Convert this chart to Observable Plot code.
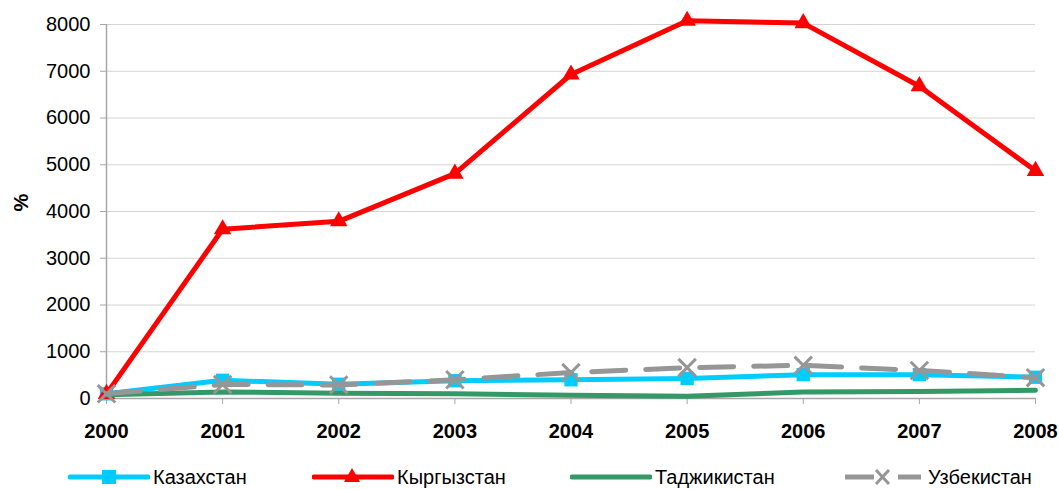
<!DOCTYPE html>
<html>
<head>
<meta charset="utf-8">
<script src="https://cdn.jsdelivr.net/npm/d3@7"></script>
<script src="https://cdn.jsdelivr.net/npm/@observablehq/plot@0.6"></script>
<style>
  html, body { margin: 0; padding: 0; background: #fff; }
  body { width: 1059px; height: 489px; overflow: hidden; font-family: "Liberation Sans", Arial, sans-serif; }
  #legend { position: relative; height: 44px; width: 1059px; }
  .item { position: absolute; top: 20px; height: 24px; display: flex; align-items: center; font-size: 20px; color: #000; }
  .item svg { display: block; margin-right: 3px; }
</style>
</head>
<body>
<div id="chart"></div>
<div id="legend"></div>
<script>
const years = [2000, 2001, 2002, 2003, 2004, 2005, 2006, 2007, 2008];
const yTicks = [0, 1000, 2000, 3000, 4000, 5000, 6000, 7000, 8000];
const seriesNames = ["Казахстан", "Кыргызстан", "Таджикистан", "Узбекистан"];
const kazakhstan = [100, 390, 305, 380, 400, 430, 510, 510, 455];
const kyrgyzstan = [100, 3620, 3790, 4810, 6930, 8080, 8030, 6680, 4870];
const tajikistan = [80, 140, 110, 100, 70, 50, 140, 150, 175];
const uzbekistan = [100, 300, 290, 400, 555, 660, 710, 600, 445];

const colors = ["#00CCFF", "#FF0000", "#339966", "#969696"];
const table = (vals) => years.map((year, i) => ({year, value: vals[i]}));
const kz = table(kazakhstan), kg = table(kyrgyzstan), tj = table(tajikistan), uz = table(uzbekistan);

const chart = Plot.plot({
  width: 1059,
  height: 445,
  marginLeft: 106,
  marginRight: 24,
  marginTop: 24,
  marginBottom: 47,
  style: {fontFamily: "Liberation Sans, Arial, sans-serif", fontSize: "20px", color: "#000", background: "#fff"},
  x: {type: "linear", domain: [2000, 2008]},
  y: {domain: [0, 8000]},
  marks: [
    Plot.gridY(yTicks, {stroke: "#d4d4d4", strokeOpacity: 1, strokeWidth: 1}),
    Plot.axisY(yTicks, {tickSize: 6, tickPadding: 10, fontSize: 20, tickFormat: d => String(d), label: null, stroke: "#a6a6a6"}),
    Plot.axisX(years, {tickSize: 6, tickPadding: 19, fontSize: 20, fontWeight: "bold", tickFormat: d => String(d), label: null, stroke: "#a6a6a6"}),
    Plot.ruleX([2000], {stroke: "#a6a6a6", strokeWidth: 1.5}),
    Plot.ruleY([0], {stroke: "#a6a6a6", strokeWidth: 1.5}),
    Plot.text(["%"], {frameAnchor: "left", dx: -85, rotate: -90, fontWeight: "bold", fontSize: 20}),
    Plot.line(kz, {x: "year", y: "value", stroke: colors[0], strokeWidth: 5}),
    Plot.dot(kz, {x: "year", y: "value", symbol: "square", r: 7.5, fill: colors[0], stroke: "none"}),
    Plot.line(kg, {x: "year", y: "value", stroke: colors[1], strokeWidth: 5}),
    Plot.dot(kg, {x: "year", y: "value", symbol: "triangle", r: 6.5, fill: colors[1], stroke: "none"}),
    Plot.line(tj, {x: "year", y: "value", stroke: colors[2], strokeWidth: 5}),
    Plot.line(uz, {x: "year", y: "value", stroke: colors[3], strokeWidth: 5, strokeDasharray: "34,20"}),
    Plot.dot(uz, {x: "year", y: "value", symbol: "times", r: 8, stroke: colors[3], strokeWidth: 3})
  ]
});
document.getElementById("chart").appendChild(chart);

// Legend
const legendLefts = [68, 312, 570, 843];
const legend = d3.select("#legend");
seriesNames.forEach((name, i) => {
  const item = legend.append("div").attr("class", "item").style("left", legendLefts[i] + "px");
  const svg = item.append("svg").attr("width", 82).attr("height", 24);
  if (i === 3) {
    svg.append("line").attr("x1", 2).attr("x2", 31).attr("y1", 12).attr("y2", 12)
      .attr("stroke", colors[i]).attr("stroke-width", 5);
    svg.append("line").attr("x1", 55).attr("x2", 78).attr("y1", 12).attr("y2", 12)
      .attr("stroke", colors[i]).attr("stroke-width", 5);
  } else {
    svg.append("line").attr("x1", 2).attr("x2", 80).attr("y1", 12).attr("y2", 12)
      .attr("stroke", colors[i]).attr("stroke-width", 5).attr("stroke-linecap", "round");
  }
  if (i === 0) {
    svg.append("rect").attr("x", 34).attr("y", 5).attr("width", 14).attr("height", 14).attr("fill", colors[0]);
  } else if (i === 1) {
    svg.append("path").attr("d", "M40,3 L48,17 L32,17 Z").attr("fill", colors[1]);
  } else if (i === 3) {
    svg.append("path").attr("d", "M33,5 L46,19 M46,5 L33,19").attr("stroke", colors[3]).attr("stroke-width", 3);
  }
  item.append("span").text(name);
});
</script>
</body>
</html>
